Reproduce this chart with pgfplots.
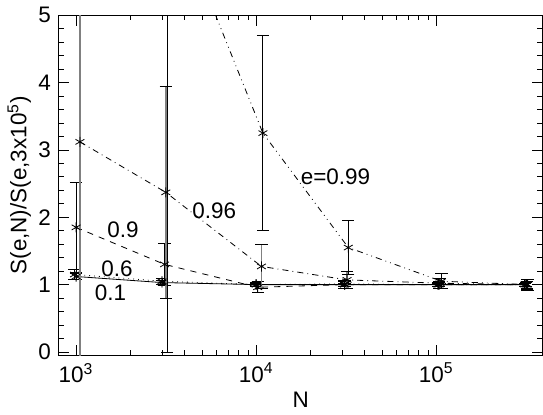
\documentclass[border=0pt]{standalone}
\usepackage{pgfplots}
\pgfplotsset{compat=1.18}
\usepackage{fontspec}
\setmainfont{Liberation Sans}
\begin{document}
\begin{tikzpicture}
\fontsize{11}{13}\selectfont
\begin{axis}[
  scale only axis, width=237pt, height=166.5pt,
  xmode=log, xmin=800, xmax=3.9e5, ymin=-0.05, ymax=5,
  xtick={1000,10000,100000}, xticklabels={10\textsuperscript{3},10\textsuperscript{4},10\textsuperscript{5}},
  ytick={0,1,2,3,4,5}, minor y tick num=4,
  yticklabel style={/pgf/number format/assume math mode=true},
  tick align=inside, tick style={black, thin},
  major tick length=5pt, minor tick length=2.5pt,
  xlabel={N}, ylabel={S(e,N)/S(e,3x10\textsuperscript{5})},
  xlabel style={yshift=3pt}, ylabel style={yshift=-4pt},
  clip=true,
  every axis plot/.append style={black, thin, mark=asterisk, mark size=2.5pt, mark options={solid},
    error bars/error bar style={solid, black}, error bars/error mark options={rotate=90, mark size=3pt, black, solid}},
]
\addplot[solid, error bars/.cd, y dir=both, y explicit] coordinates {
 (1000,1.12) +- (0,0.05) (3000,1.03) +- (0,0.03) (10000,1.0) +- (0,0.02)
 (31000,1.0) +- (0,0.02) (102000,1.0) +- (0,0.02) (310000,1.0) +- (0,0.02)};
\addplot[dotted, error bars/.cd, y dir=both, y explicit] coordinates {
 (980,1.15) +- (0,0.08) (3000,1.05) +- (0,0.04) (10000,1.0) +- (0,0.03)
 (31000,1.01) +- (0,0.03) (103000,1.0) +- (0,0.03) (315000,1.0) +- (0,0.03)};
\addplot[dashed, error bars/.cd, y dir=both, y explicit] coordinates {
 (1000,1.85) +- (0,0.67) (3100,1.3) +- (0,0.31) (10200,0.96) +- (0,0.08)
 (31000,1.0) +- (0,0.06) (104000,1.0) +- (0,0.05) (318000,1.0) +- (0,0.05)};
\addplot[dash dot, error bars/.cd, y dir=both, y explicit, error bar style={gray, line width=0.8pt}] coordinates {
 (1050,3.12) +- (0,4.0) (3150,2.37) +- (0,1.57) (10700,1.27) +- (0,0.33)
 (32000,1.07) +- (0,0.12) (105000,1.02) +- (0,0.07) (320000,1.0) +- (0,0.07)};
\addplot[dash dot dot, error bars/.cd, y dir=both, y explicit] coordinates {
 (1080,9.0) +- (0,0.5) (3200,6.8) +- (0,6.8) (10900,3.25) +- (0,1.45)
 (32500,1.55) +- (0,0.4) (107000,1.05) +- (0,0.11) (322000,1.0) +- (0,0.08)};
\node[anchor=west] at (axis cs:1150,0.88) {0.1};
\node[anchor=west] at (axis cs:1250,1.23) {0.6};
\node[anchor=west] at (axis cs:1350,1.82) {0.9};
\node[anchor=west] at (axis cs:4000,2.1) {0.96};
\node[anchor=west] at (axis cs:16000,2.6) {e=0.99};
\end{axis}
\end{tikzpicture}
\end{document}
